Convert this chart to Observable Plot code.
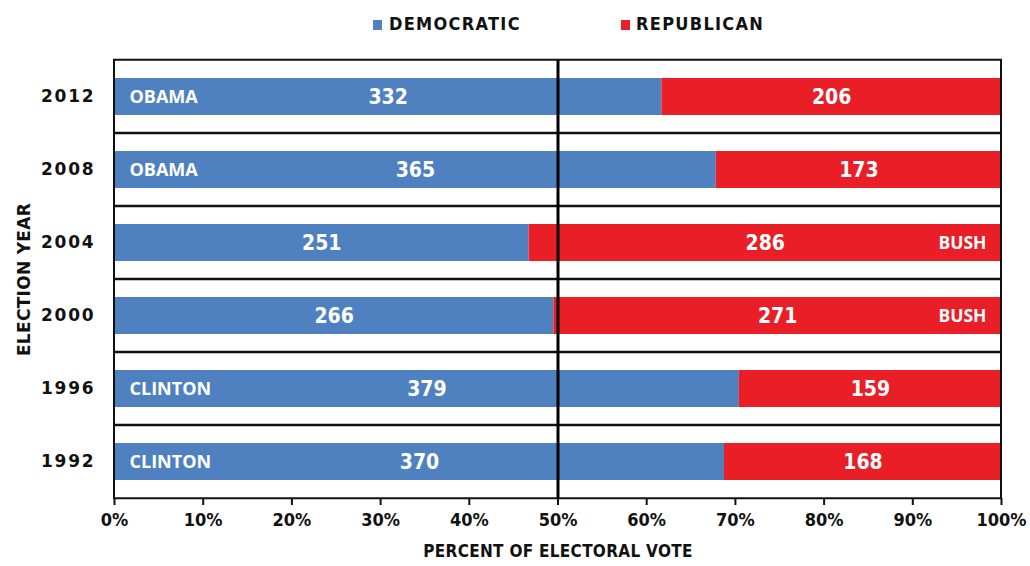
<!DOCTYPE html>
<html>
<head>
<meta charset="utf-8">
<script src="https://cdn.jsdelivr.net/npm/d3@7"></script>
<script src="https://cdn.jsdelivr.net/npm/@observablehq/plot@0.6"></script>
<style>
  html, body { margin: 0; padding: 0; background: #fff; }
  #wrap { position: relative; width: 1030px; height: 566px; }
  #legend { position: relative; height: 50px; width: 1030px; }
  .sw { position: absolute; top: 20px; width: 9px; height: 10px; }
  .lt { position: absolute; top: 13px; font-family: "Liberation Sans Narrow", "DejaVu Sans Condensed", "DejaVu Sans", sans-serif; font-stretch: condensed; font-weight: bold; font-size: 18px; letter-spacing: 1.3px; color: #111; }
</style>
</head>
<body>
<div id="wrap">
  <div id="legend"></div>
  <div id="chart"></div>
</div>
<script>
const years   = ["2012", "2008", "2004", "2000", "1996", "1992"];
const demVotes = [332, 365, 251, 266, 379, 370];
const repVotes = [206, 173, 286, 271, 159, 168];
const winners  = ["OBAMA", "OBAMA", "BUSH", "BUSH", "CLINTON", "CLINTON"];
const winnerParty = ["D", "D", "R", "R", "D", "D"];
const xTicks = [0, 0.1, 0.2, 0.3, 0.4, 0.5, 0.6, 0.7, 0.8, 0.9, 1.0];
const seriesNames = ["DEMOCRATIC", "REPUBLICAN"];
const seriesColors = ["#4f81c1", "#e91e26"];

const rows = years.map((y, i) => {
  const total = demVotes[i] + repVotes[i];
  return { year: y, dem: demVotes[i], rep: repVotes[i], pct: demVotes[i] / total,
           winner: winners[i], party: winnerParty[i] };
});

// Legend
const legend = document.getElementById("legend");
const legPos = [[373, 389], [621, 636]];
seriesNames.forEach((n, i) => {
  const s = document.createElement("div");
  s.className = "sw"; s.style.left = legPos[i][0] + "px"; s.style.background = seriesColors[i];
  legend.appendChild(s);
  const t = document.createElement("div");
  t.className = "lt"; t.style.left = legPos[i][1] + "px"; t.textContent = n;
  legend.appendChild(t);
});

const condensed = "'Liberation Sans Narrow', 'DejaVu Sans Condensed', 'DejaVu Sans', sans-serif";
const H = 516, MT = 10, MB = 68;
const plotH = H - MT - MB;
const step = plotH / years.length;
const bw = step * 0.5;
const half = (step - bw) / 2;

const chart = Plot.plot({
  width: 1030,
  height: H,
  marginTop: MT,
  marginBottom: MB,
  marginLeft: 114,
  marginRight: 29,
  style: { fontFamily: condensed, background: "#fff", color: "#111" },
  x: { domain: [0, 1] },
  y: { domain: years, paddingInner: 0.5, paddingOuter: 0.25 },
  marks: [
    Plot.barX(rows, { y: "year", x1: 0, x2: "pct", fill: seriesColors[0] }),
    Plot.barX(rows, { y: "year", x1: "pct", x2: 1, fill: seriesColors[1] }),
    // row frames (grid)
    Plot.barX(rows, { y: "year", x1: 0, x2: 1, fill: "none", stroke: "#111", strokeWidth: 2,
                      insetTop: -half, insetBottom: -half }),
    Plot.ruleX([0.5], { stroke: "#000", strokeWidth: 3 }),
    // vote counts
    Plot.text(rows, { y: "year", x: d => d.pct / 2, text: d => String(d.dem), fill: "#fff",
                      fontSize: 21, fontWeight: "bold", fontFamily: condensed, fontStretch: "condensed" }),
    Plot.text(rows, { y: "year", x: d => (d.pct + 1) / 2, text: d => String(d.rep), fill: "#fff",
                      fontSize: 21, fontWeight: "bold", fontFamily: condensed, fontStretch: "condensed" }),
    // winner names
    Plot.text(rows.filter(d => d.party === "D"), { y: "year", x: 0, dx: 15, text: "winner", textAnchor: "start",
                      fill: "#fff", fontSize: 18, fontWeight: "bold", fontFamily: "'Open Sans', sans-serif" }),
    Plot.text(rows.filter(d => d.party === "R"), { y: "year", x: 1, dx: -15, text: "winner", textAnchor: "end",
                      fill: "#fff", fontSize: 17.5, fontWeight: "bold", fontFamily: "'Open Sans', sans-serif" }),
    Plot.axisX({ ticks: xTicks, tickFormat: d3.format(".0%"), tickSize: 7, tickPadding: 8,
                 fontSize: 18, fontWeight: "bold", fontFamily: condensed, stroke: "#111", strokeWidth: 2,
                 label: "PERCENT OF ELECTORAL VOTE", labelAnchor: "center", labelArrow: "none", labelOffset: 58 }),
    Plot.axisY({ tickSize: 0, tickPadding: 19, fontSize: 17, fontWeight: "bold",
                 fontFamily: "'DejaVu Sans', sans-serif",
                 label: "ELECTION YEAR", labelAnchor: "center", labelArrow: "none", labelOffset: 97 })
  ]
});
document.getElementById("chart").appendChild(chart);
// style axis label sizes
chart.querySelectorAll("g[aria-label='x-axis label'] text, g[aria-label='y-axis label'] text").forEach(t => {
  t.setAttribute("font-size", "17");
  t.setAttribute("font-weight", "bold");
  t.style.letterSpacing = "0.3px";
});
chart.querySelectorAll("g[aria-label='y-axis tick label'] text").forEach(t => t.style.letterSpacing = "1.8px");
</script>
</body>
</html>
